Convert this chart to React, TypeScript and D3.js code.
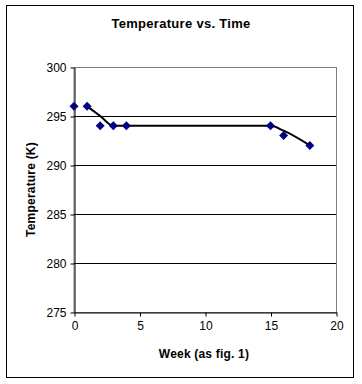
import React, { useEffect, useRef } from 'react';
import * as d3 from 'd3';

const weeks = [0, 1, 2, 3, 4, 15, 16, 18];
const temps = [296, 296, 294, 294, 294, 294, 293, 292];

// smoothed trend line shown in the chart
const trendWeeks = [1, 2, 3, 4, 15, 16, 18];
const trendTemps = [296, 295, 294, 294, 294, 293.5, 292];

const xTicks = [0, 5, 10, 15, 20];
const yTicks = [275, 280, 285, 290, 295, 300];

const App = () => {
  const svgRef = useRef<SVGSVGElement>(null);
  const width = 362;
  const height = 384;

  useEffect(() => {
    const svg = d3.select(svgRef.current);
    svg.selectAll('*').remove();

    const font = 'Arial, "Liberation Sans", sans-serif';
    const left = 74, right = 336, top = 67, bottom = 312;

    const x = d3.scaleLinear().domain([0, 20]).range([left, right]);
    const y = d3.scaleLinear().domain([275, 300]).range([bottom, top]);

    svg.append('rect').attr('width', width).attr('height', height).attr('fill', '#fff');
    svg.append('rect')
      .attr('x', 6.5).attr('y', 5.5).attr('width', 347).attr('height', 372)
      .attr('fill', 'none').attr('stroke', '#000').attr('stroke-width', 1);

    svg.append('text')
      .attr('x', 181).attr('y', 28)
      .attr('text-anchor', 'middle')
      .attr('font-family', font).attr('font-weight', 'bold').attr('font-size', 13)
      .attr('letter-spacing', 0.3)
      .text('Temperature vs. Time');

    // plot frame (gray top/right)
    svg.append('rect')
      .attr('x', left).attr('y', top + 0.5).attr('width', right - left + 0.5).attr('height', bottom - top)
      .attr('fill', 'none').attr('stroke', '#808080');

    // gridlines
    svg.append('g').selectAll('line')
      .data(yTicks.filter(d => d !== 275 && d !== 300))
      .enter().append('line')
      .attr('x1', left).attr('x2', right)
      .attr('y1', d => Math.round(y(d)) + 0.5).attr('y2', d => Math.round(y(d)) + 0.5)
      .attr('stroke', '#000');

    // y axis
    const yAxis = svg.append('g')
      .attr('transform', `translate(${left + 0.5},0.5)`)
      .call(d3.axisLeft(y).tickValues(yTicks).tickSize(4).tickSizeOuter(0).tickPadding(4));
    yAxis.select('.domain').attr('stroke', '#000');
    yAxis.selectAll('text').attr('font-family', font).attr('font-size', 12).attr('fill', '#000');

    // x axis
    const xAxis = svg.append('g')
      .attr('transform', `translate(0.5,${bottom + 0.5})`)
      .call(d3.axisBottom(x).tickValues(xTicks).tickSize(4).tickSizeOuter(0).tickPadding(5));
    xAxis.select('.domain').attr('stroke', '#000');
    xAxis.selectAll('text').attr('font-family', font).attr('font-size', 12).attr('fill', '#000');

    svg.append('text')
      .attr('transform', `translate(35,${(top + bottom) / 2}) rotate(-90)`)
      .attr('text-anchor', 'middle')
      .attr('font-family', font).attr('font-weight', 'bold').attr('font-size', 12)
      .attr('letter-spacing', 0.2)
      .text('Temperature (K)');

    svg.append('text')
      .attr('x', 204).attr('y', 358)
      .attr('text-anchor', 'middle')
      .attr('font-family', font).attr('font-weight', 'bold').attr('font-size', 12)
      .attr('letter-spacing', 0.2)
      .text('Week (as fig. 1)');

    // trend line
    const line = d3.line<number>()
      .x((d, i) => x(trendWeeks[i]))
      .y(d => y(d))
      .curve(d3.curveMonotoneX);
    svg.append('path')
      .datum(trendTemps)
      .attr('d', line)
      .attr('fill', 'none')
      .attr('stroke', '#000')
      .attr('stroke-width', 2);

    // markers
    svg.append('g').selectAll('path')
      .data(temps)
      .enter().append('path')
      .attr('transform', (d, i) => `translate(${x(weeks[i])},${y(d)})`)
      .attr('d', 'M0,-4.5L4.5,0L0,4.5L-4.5,0Z')
      .attr('fill', '#000080');
  }, []);

  return (
    <svg ref={svgRef} width={width} height={height}
      style={{ position: 'absolute', left: 0, top: 0, display: 'block' }} />
  );
};

export default App;
